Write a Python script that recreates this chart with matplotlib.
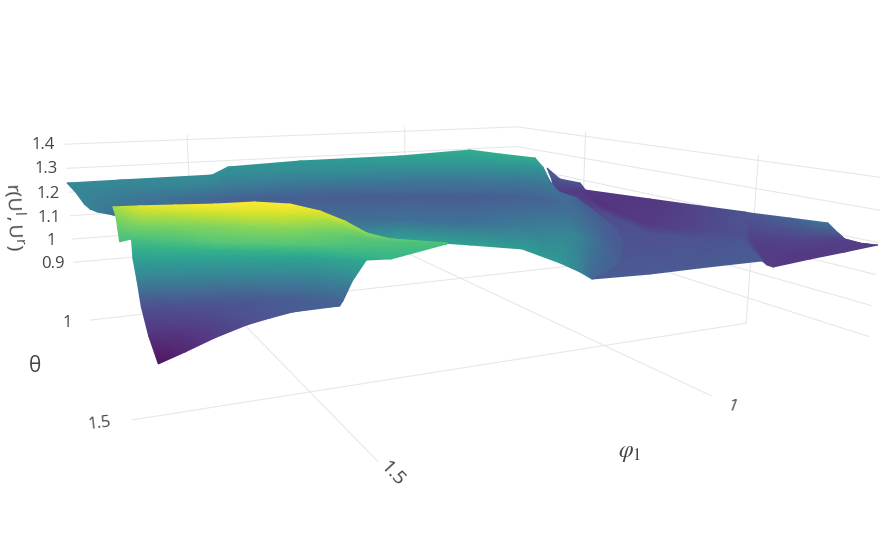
import numpy as np
import matplotlib
matplotlib.use("Agg")
import matplotlib.pyplot as plt
from matplotlib.colors import ListedColormap
from mpl_toolkits.mplot3d import proj3d

W, H = 880, 560

plt.rcParams['font.family'] = ['Open Sans', 'DejaVu Sans']
plt.rcParams['grid.color'] = '#e6e6e6'
plt.rcParams['grid.linewidth'] = 0.75

# axis ranges and ticks
phi_range = (0.6978, 1.7419)
theta_range = (0.7144, 1.7466)
z_range = (0.8048, 1.42)
phi_ticks = [1, 1.5]
theta_ticks = [1, 1.5]
z_ticks = [0.9, 1, 1.1, 1.2, 1.3, 1.4]

# right wing of the surface, at the back
wing_phi = [[.844, .894, .891, .934, .896, .870, .847, .847, .826, .808, .794, .769],
            [.857, .892, .876, .937, .985, .944, .917, .916, .859, .822, .775, .755],
            [.857, .890, .894, .942, .988, .947, .908, .907, .866, .794, .772, .744],
            [.786, .850, .937, 1.121, 1.027, .935, .815, .829, .831, .772, .759, .733]]
wing_theta = [[1.077, 1.199, 1.261, 1.339, 1.468, 1.557, 1.629, 1.639, 1.696, 1.748, 1.755, 1.743],
              [1.116, 1.215, 1.250, 1.387, 1.580, 1.642, 1.704, 1.712, 1.739, 1.763, 1.740, 1.761],
              [1.120, 1.215, 1.280, 1.401, 1.585, 1.646, 1.695, 1.711, 1.738, 1.735, 1.745, 1.766],
              [1.021, 1.172, 1.361, 1.626, 1.636, 1.636, 1.639, 1.663, 1.677, 1.691, 1.740, 1.773]]
wing_z = [[1.29, 1.28, 1.28, 1.28, 1.28, 1.28, 1.28, 1.28, 1.28, 1.28, 1.25, 1.22],
          [1.25, 1.24, 1.24, 1.24, 1.24, 1.24, 1.24, 1.24, 1.24, 1.24, 1.22, 1.215],
          [1.23, 1.22, 1.22, 1.22, 1.22, 1.22, 1.22, 1.22, 1.22, 1.20, 1.20, 1.212],
          [1.15, 1.14, 1.14, 1.12, 1.12, 1.12, 1.12, 1.12, 1.12, 1.14, 1.18, 1.21]]
wing_c = [[.28, .23, .22, .12, .11, .16, .22, .23, .28, .34, .25, .14],
          [.20, .14, .12, .10, .13, .17, .20, .15, .17, .16, .14, .14],
          [.15, .14, .14, .18, .20, .21, .23, .14, .14, .13, .14, .14],
          [.12, .12, .20, .24, .24, .24, .25, .13, .12, .12, .13, .14]]

# main band, back edge to valley to lower edge
band_phi = [[1.751, 1.741, 1.728, 1.714, 1.696, 1.672],
            [1.654, 1.652, 1.649, 1.645, 1.641, 1.645],
            [1.476, 1.476, 1.472, 1.462, 1.471, 1.476],
            [1.434, 1.442, 1.452, 1.446, 1.457, 1.466],
            [1.291, 1.312, 1.328, 1.332, 1.354, 1.374],
            [1.063, 1.102, 1.132, 1.149, 1.199, 1.226],
            [.908, .982, 1.023, 1.053, 1.120, 1.155],
            [.888, .926, .952, .975, 1.050, 1.092],
            [.861, .888, .913, .937, 1.015, 1.093],
            [.886, .888, .881, .903, .986, 1.076],
            [.967, .925, .877, .865, .929, 1.039],
            [.946, .914, .894, .877, .901, .904],
            [.992, .958, .909, .847, .837, .877]]
band_theta = [[.829, .781, .732, .727, .645, .542],
              [.827, .807, .769, .731, .656, .597],
              [.828, .825, .805, .756, .789, .806],
              [.788, .820, .856, .831, .870, .903],
              [.827, .892, .940, .951, 1.015, 1.076],
              [.828, .916, .983, 1.022, 1.133, 1.195],
              [.862, 1.002, 1.078, 1.134, 1.260, 1.326],
              [.961, 1.046, 1.111, 1.170, 1.314, 1.390],
              [1.057, 1.100, 1.160, 1.227, 1.400, 1.504],
              [1.126, 1.138, 1.146, 1.216, 1.388, 1.533],
              [1.288, 1.241, 1.194, 1.221, 1.357, 1.513],
              [1.332, 1.296, 1.300, 1.308, 1.367, 1.406],
              [1.472, 1.440, 1.389, 1.320, 1.326, 1.372]]
band_z = [[1.27, 1.24, 1.20, 1.15, 1.10, 1.05],
          [1.27, 1.24, 1.20, 1.15, 1.10, 1.05],
          [1.27, 1.24, 1.20, 1.15, 1.10, 1.05],
          [1.29, 1.26, 1.22, 1.17, 1.12, 1.07],
          [1.31, 1.28, 1.24, 1.19, 1.14, 1.09],
          [1.31, 1.28, 1.24, 1.19, 1.14, 1.09],
          [1.33, 1.30, 1.26, 1.21, 1.16, 1.11],
          [1.33, 1.30, 1.26, 1.21, 1.16, 1.11],
          [1.33, 1.30, 1.26, 1.21, 1.16, 1.11],
          [1.31, 1.28, 1.24, 1.19, 1.14, 1.09],
          [1.27, 1.24, 1.20, 1.15, 1.10, 1.05],
          [1.25, 1.22, 1.18, 1.13, 1.08, 1.03],
          [1.23, 1.20, 1.16, 1.11, 1.06, 1.01]]
band_c = [[.44, .43, .42, .41, .40, .40],
          [.44, .42, .39, .36, .34, .33],
          [.45, .43, .36, .29, .30, .30],
          [.48, .44, .36, .27, .30, .30],
          [.50, .45, .35, .25, .30, .35],
          [.55, .47, .35, .25, .33, .55],
          [.60, .49, .36, .25, .33, .55],
          [.60, .49, .36, .26, .37, .52],
          [.59, .47, .36, .28, .42, .50],
          [.52, .43, .36, .30, .42, .42],
          [.36, .34, .32, .32, .35, .30],
          [.27, .27, .27, .27, .27, .26],
          [.24, .24, .24, .24, .24, .24]]

# front sheet, from the purple tip up to the crease
low_phi = [[1.680, 1.642, 1.599, 1.552, 1.518, 1.485, 1.416],
           [1.683, 1.635, 1.591, 1.548, 1.515, 1.479, 1.410],
           [1.681, 1.632, 1.574, 1.527, 1.494, 1.462, 1.405],
           [1.690, 1.636, 1.578, 1.529, 1.486, 1.444, 1.399],
           [1.697, 1.639, 1.585, 1.537, 1.482, 1.438, 1.396],
           [1.699, 1.643, 1.591, 1.539, 1.481, 1.424, 1.383],
           [1.701, 1.648, 1.604, 1.555, 1.497, 1.419, 1.296]]
low_theta = [[1.341, 1.350, 1.359, 1.366, 1.371, 1.381, 1.397],
             [1.283, 1.295, 1.320, 1.349, 1.360, 1.363, 1.386],
             [1.208, 1.228, 1.252, 1.271, 1.290, 1.309, 1.381],
             [1.243, 1.261, 1.280, 1.303, 1.322, 1.342, 1.407],
             [1.265, 1.291, 1.317, 1.338, 1.364, 1.397, 1.457],
             [1.280, 1.314, 1.346, 1.377, 1.411, 1.465, 1.520],
             [1.292, 1.347, 1.410, 1.440, 1.461, 1.490, 1.517]]
low_z = [[.840, .873, .912, .945, .961, .978, .989],
         [.895, .906, .925, .950, .964, .975, .989],
         [.950, .956, .961, .967, .972, .978, .994],
         [1.060, 1.060, 1.060, 1.060, 1.060, 1.060, 1.071],
         [1.143, 1.143, 1.143, 1.143, 1.143, 1.148, 1.159],
         [1.181, 1.181, 1.181, 1.181, 1.181, 1.187, 1.187],
         [1.214, 1.220, 1.231, 1.231, 1.225, 1.220, 1.214]]
low_c = [[0, .06, .13, .19, .22, .25, .27],
         [.10, .12, .155, .20, .225, .245, .27],
         [.20, .21, .22, .23, .24, .25, .28],
         [.40, .40, .40, .40, .40, .40, .42],
         [.55, .55, .55, .55, .55, .56, .58],
         [.62, .62, .62, .62, .62, .63, .63],
         [.68, .69, .71, .71, .70, .69, .68]]

# yellow hump, crease to ridge
hump_phi = [[1.718, 1.701, 1.648, 1.604, 1.555, 1.510, 1.473, 1.438, 1.406, 1.361, 1.296],
            [1.718, 1.694, 1.651, 1.603, 1.560, 1.519, 1.471, 1.433, 1.398, 1.359, 1.295],
            [1.718, 1.701, 1.661, 1.620, 1.580, 1.537, 1.488, 1.448, 1.406, 1.360, 1.294],
            [1.721, 1.707, 1.672, 1.632, 1.583, 1.547, 1.510, 1.476, 1.440, 1.392, 1.293]]
hump_theta = [[1.294, 1.292, 1.347, 1.410, 1.440, 1.455, 1.476, 1.481, 1.496, 1.499, 1.517],
              [1.281, 1.336, 1.371, 1.409, 1.460, 1.487, 1.472, 1.470, 1.476, 1.495, 1.516],
              [1.268, 1.391, 1.434, 1.487, 1.538, 1.549, 1.523, 1.511, 1.498, 1.497, 1.514],
              [1.265, 1.438, 1.498, 1.544, 1.549, 1.583, 1.588, 1.585, 1.570, 1.534, 1.511]]
hump_z = [[1.209, 1.214, 1.220, 1.231, 1.231, 1.225, 1.225, 1.220, 1.220, 1.214, 1.214],
          [1.247, 1.269, 1.275, 1.280, 1.291, 1.291, 1.269, 1.247, 1.225, 1.220, 1.214],
          [1.280, 1.324, 1.335, 1.346, 1.357, 1.352, 1.324, 1.291, 1.247, 1.225, 1.214],
          [1.308, 1.363, 1.379, 1.390, 1.390, 1.390, 1.368, 1.335, 1.291, 1.253, 1.214]]
hump_c = [[.67, .68, .69, .71, .71, .70, .70, .69, .69, .68, .68],
          [.74, .78, .79, .80, .82, .82, .78, .74, .70, .69, .68],
          [.80, .88, .90, .92, .94, .93, .88, .82, .74, .70, .68],
          [.85, .95, .98, 1, 1, 1, .96, .90, .82, .75, .68]]

fig = plt.figure(figsize=(W / 100, H / 100), dpi=100)

# square 3d axes, bigger than the canvas, placed so the box lands like the reference
side = 830.3
pos = [-14.854 / W, (H - 663.735) / H, side / W, side / H]
ax = fig.add_axes(pos, projection='3d')
ax.view_init(11.3287, 65.3410)
ax.set_proj_type('persp', focal_length=0.2062)
ax.set_box_aspect((3.5252, 3.4859, 1.0))
ax.set_xlim3d(*phi_range)
ax.set_ylim3d(*theta_range)
ax.set_zlim3d(*z_range)
ax.set_xticks(phi_ticks)
ax.set_yticks(theta_ticks)
ax.set_zticks(z_ticks)
ax.set_xticklabels([])
ax.set_yticklabels([])
ax.set_zticklabels([])
ax.tick_params(axis='both', color=(1, 1, 1, 0))
ax.patch.set_alpha(0)
for a in (ax.xaxis, ax.yaxis, ax.zaxis):
    a.set_pane_color((1, 1, 1, 0))
    a.line.set_color((1, 1, 1, 0))

proj = ax.get_proj()
lim2d = (-0.095, 0.09)

# smooth shading needs gouraud, which only 2d meshes have
top = fig.add_axes(pos)
top.set_xlim(*lim2d)
top.set_ylim(*lim2d)
top.axis('off')

# plotly's lighting washes the colours out a little
base = plt.get_cmap('viridis')(np.linspace(0, 1, 256))
base[:, :3] = base[:, :3] * 0.93 + 0.07
surface_cmap = ListedColormap(base)


def draw_sheet(phi, theta, z, c):
    phi = np.array(phi, float)
    x, y, _ = proj3d.proj_transform(phi.ravel(), np.array(theta, float).ravel(),
                                    np.array(z, float).ravel(), proj)
    x = np.array(x).reshape(phi.shape)
    y = np.array(y).reshape(phi.shape)
    top.pcolormesh(x, y, np.array(c, float), shading='gouraud', cmap=surface_cmap,
                   vmin=0, vmax=1, clip_on=False)


draw_sheet(wing_phi, wing_theta, wing_z, wing_c)
draw_sheet(band_phi, band_theta, band_z, band_c)
draw_sheet(low_phi, low_theta, low_z, low_c)
draw_sheet(hump_phi, hump_theta, hump_z, hump_c)


def label(px, py, s, size=12, rot=0, **kw):
    fig.text(px / W, 1 - py / H, s, fontsize=size, rotation=rot, color='#444444',
             ha='center', va='center', rotation_mode='anchor', **kw)


for s, px, py in zip(['1.4', '1.3', '1.2', '1.1', '1', '0.9'],
                     [43, 46, 48, 49, 51, 53], [145, 169, 194, 218, 241, 264]):
    label(px, py, s)
label(67, 323, '1')
label(100, 424, '1.5', rot=7)
label(392, 474, '1.5', size=14, rot=-47)
label(732, 407, '1', rot=-20)
label(35, 367, 'θ', size=15)
label(14, 217, r'$\mathregular{r(U^l,U^r)}$', size=14, rot=-88)
label(630, 452, r'$\varphi_1$', size=17, math_fontfamily='stix')

fig.savefig('out.png', dpi=100)
